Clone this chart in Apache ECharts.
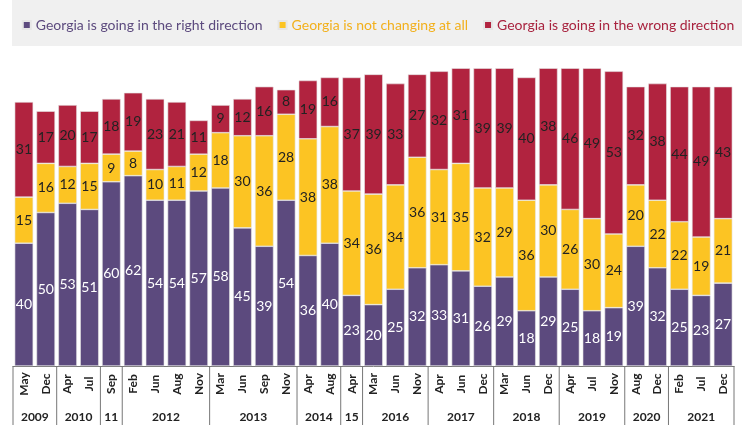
<!DOCTYPE html>
<html>
<head>
<meta charset="utf-8">
<script src="https://cdn.jsdelivr.net/npm/echarts@6/dist/echarts.min.js"></script>
<style>
  html, body { margin: 0; padding: 0; background: #fff; }
  #chart { width: 756px; height: 425px; }
</style>
</head>
<body>
<div id="chart"></div>
<script>
// Survey waves (month row) and the year row below it
const months = ["May", "Dec", "Apr", "Jul", "Sep", "Feb", "Jun", "Aug", "Nov",
  "Mar", "Jun", "Sep", "Nov", "Apr", "Aug", "Apr", "Mar", "Jun", "Nov",
  "Apr", "Jun", "Dec", "Mar", "Jun", "Dec", "Apr", "Jul", "Nov",
  "Aug", "Dec", "Feb", "Jul", "Dec"];
const yearLabels = ["2009", "2010", "11", "2012", "2013", "2014", "15",
  "2016", "2017", "2018", "2019", "2020", "2021"];
const yearSpans = [2, 2, 1, 4, 4, 2, 1, 3, 3, 3, 3, 2, 3];

// Series values (%)
const rightDir = [40, 50, 53, 51, 60, 62, 54, 54, 57, 58, 45, 39, 54, 36, 40,
  23, 20, 25, 32, 33, 31, 26, 29, 18, 29, 25, 18, 19, 39, 32, 25, 23, 27];
const notChanging = [15, 16, 12, 15, 9, 8, 10, 11, 12, 18, 30, 36, 28, 38, 38,
  34, 36, 34, 36, 31, 35, 32, 29, 36, 30, 26, 30, 24, 20, 22, 22, 19, 21];
const wrongDir = [31, 17, 20, 17, 18, 19, 23, 21, 11, 9, 12, 16, 8, 19, 16,
  37, 39, 33, 27, 32, 31, 39, 39, 40, 38, 46, 49, 53, 32, 38, 44, 49, 43];

const names = [
  "Georgia is going in the right direction",
  "Georgia is not changing at all",
  "Georgia is going in the wrong direction"
];
const colors = ["#5c4a7e", "#fcc423", "#b1233f"];
const textColors = ["#5c4a7e", "#f2b01c", "#a8223e"];
const font = "Lato, 'Open Sans', sans-serif";

function makeSeries(i, data, labelColor) {
  return {
    name: names[i],
    type: "bar",
    stack: "total",
    data: data,
    barCategoryGap: "15%",
    itemStyle: { color: colors[i], borderColor: "#e6e6e6", borderWidth: 0.6 },
    label: {
      show: true,
      position: "inside",
      color: labelColor,
      fontSize: 14,
      fontFamily: font
    }
  };
}

let myChart = echarts.init(document.getElementById("chart"));

let option = {
  animation: false,
  textStyle: { fontFamily: font },
  graphic: [{
    type: "rect",
    left: 12,
    top: 0,
    shape: { width: 730, height: 46 },
    style: { fill: "#f0f0f0" },
    z: -10
  }],
  legend: {
    top: 13,
    left: "center",
    icon: "rect",
    itemWidth: 8,
    itemHeight: 8,
    itemGap: 15,
    textStyle: { fontSize: 14, fontFamily: font },
    data: names.map(function (n, i) {
      return { name: n, textStyle: { color: textColors[i] } };
    })
  },
  grid: { left: 13, right: 22, top: 59, bottom: 59 },
  xAxis: {
    type: "category",
    data: months,
    axisLine: { lineStyle: { color: "#777", width: 1 } },
    axisTick: { show: false },
    axisLabel: {
      interval: 0,
      rotate: 90,
      align: "center",
      verticalAlign: "middle",
      margin: 18,
      fontSize: 12,
      fontWeight: "bold",
      color: "#222",
      fontFamily: font
    }
  },
  yAxis: {
    type: "value",
    min: 0,
    max: 100,
    show: false
  },
  series: [
    makeSeries(0, rightDir, "#fff"),
    makeSeries(1, notChanging, "#222"),
    makeSeries(2, wrongDir, "#222")
  ]
};

myChart.setOption(option);

// Year row and group separators, placed from the axis scale
let x0 = myChart.convertToPixel({ xAxisIndex: 0 }, 0);
let x1 = myChart.convertToPixel({ xAxisIndex: 0 }, 1);
let step = x1 - x0;
let yBase = myChart.convertToPixel({ yAxisIndex: 0 }, 0);
let extra = [];
let start = 0;
let lineStyle = { stroke: "#777", lineWidth: 1 };
extra.push({
  type: "line",
  shape: { x1: x0 - step / 2, y1: yBase, x2: x0 - step / 2, y2: 430 },
  style: lineStyle
});
for (let g = 0; g < yearSpans.length; g++) {
  let end = start + yearSpans[g];
  let left = x0 + (start - 0.5) * step;
  let right = x0 + (end - 0.5) * step;
  extra.push({
    type: "line",
    shape: { x1: right, y1: yBase, x2: right, y2: 430 },
    style: lineStyle
  });
  extra.push({
    type: "text",
    x: (left + right) / 2,
    y: yBase + 51,
    style: {
      text: yearLabels[g],
      align: "center",
      verticalAlign: "middle",
      fontSize: 12,
      fontWeight: "bold",
      fill: "#222",
      fontFamily: font
    }
  });
  start = end;
}
myChart.setOption({ graphic: option.graphic.concat(extra) });
</script>
</body>
</html>
